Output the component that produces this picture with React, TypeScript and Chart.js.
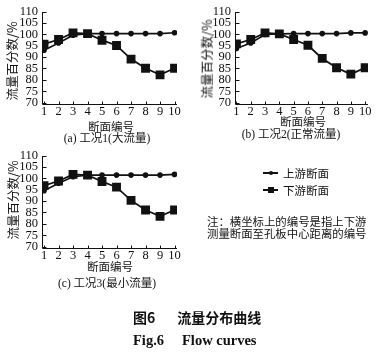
import React, { useEffect, useRef } from "react";
import { Chart, registerables } from "chart.js";
Chart.register(...registerables);

const sections = [1, 2, 3, 4, 5, 6, 7, 8, 9, 10];
const yTicks = [70, 75, 80, 85, 90, 95, 100, 105, 110];
const upstreamA = [93.0, 96.2, 99.6, 100.3, 100.3, 100.3, 100.3, 100.3, 100.3, 100.7];
const downstreamA = [95.7, 97.7, 100.6, 100.3, 97.4, 95.1, 89.1, 85.1, 82.2, 85.1];
const upstreamB = [93.8, 96.2, 99.9, 100.2, 100.3, 100.3, 100.3, 100.3, 100.6, 100.6];
const downstreamB = [95.8, 97.7, 100.6, 100.2, 97.7, 95.2, 89.4, 85.3, 82.5, 85.3];
const upstreamC = [94.5, 97.8, 100.7, 101.4, 101.4, 101.4, 101.4, 101.4, 101.4, 101.7];
const downstreamC = [96.8, 98.8, 101.7, 101.4, 98.6, 96.1, 90.3, 86.1, 83.3, 86.1];

const yTitle = "流量百分数/%";
const xTitle = "断面编号";
const captions = ["(a) 工况1(大流量)", "(b) 工况2(正常流量)", "(c) 工况3(最小流量)"];
const legendLabels = ["上游断面", "下游断面"];
const noteLines = ["注：横坐标上的编号是指上下游", "测量断面至孔板中心距离的编号"];

const CJK = "'Noto Sans CJK SC', sans-serif";
const SERIF = "'Liberation Serif', 'Noto Sans CJK SC', serif";

const axesPlugin = {
  id: "inwardAxes",
  beforeDatasetsDraw(chart: any) {
    const { ctx, chartArea, scales } = chart;
    const { left, right, bottom } = chartArea;
    const x = scales.x;
    const y = scales.y;
    ctx.save();
    ctx.strokeStyle = "#111";
    ctx.lineWidth = 1;
    ctx.beginPath();
    const l = Math.round(left) + 0.5;
    const b = Math.round(bottom) + 0.5;
    ctx.moveTo(l, Math.round(y.getPixelForValue(110)));
    ctx.lineTo(l, b);
    ctx.lineTo(Math.round(right), b);
    for (const v of yTicks) {
      const py = Math.round(y.getPixelForValue(v)) + 0.5;
      ctx.moveTo(l, py);
      ctx.lineTo(l + 4, py);
    }
    for (const v of sections) {
      const px = Math.round(x.getPixelForValue(v)) + 0.5;
      ctx.moveTo(px, b);
      ctx.lineTo(px, b - 3);
    }
    ctx.stroke();
    ctx.restore();
  },
};

type Geo = {
  left: number; top: number; width: number; height: number;
  padTop: number; padRight: number; yWidth: number; xHeight: number;
  xMin: number; xMax: number; yMin: number;
};

function Panel({ up, down, geo }: { up: number[]; down: number[]; geo: Geo }) {
  const ref = useRef<HTMLCanvasElement>(null);
  useEffect(() => {
    if (!ref.current) return;
    const tickFont = { family: "'Liberation Serif', serif", size: 12.5 };
    const chart = new Chart(ref.current, {
      type: "line",
      data: {
        datasets: [
          {
            label: legendLabels[0],
            data: sections.map((s, i) => ({ x: s, y: up[i] })),
            borderColor: "#111",
            backgroundColor: "#111",
            borderWidth: 1.6,
            pointStyle: "circle",
            pointRadius: 2,
            tension: 0,
          },
          {
            label: legendLabels[1],
            data: sections.map((s, i) => ({ x: s, y: down[i] })),
            borderColor: "#111",
            backgroundColor: "#111",
            borderWidth: 1.8,
            pointStyle: "rect",
            pointRadius: 5,
            tension: 0,
          },
        ],
      },
      options: {
        responsive: false,
        animation: false,
        devicePixelRatio: 1,
        layout: { padding: { top: geo.padTop, right: geo.padRight, left: 0, bottom: 0 } },
        plugins: { legend: { display: false }, tooltip: { enabled: false } },
        scales: {
          x: {
            type: "linear",
            min: geo.xMin,
            max: geo.xMax,
            grid: { display: false, drawTicks: false },
            border: { display: false },
            afterBuildTicks: (s: any) => { s.ticks = sections.map((v) => ({ value: v })); },
            afterFit: (s: any) => { s.height = geo.xHeight; },
            ticks: { font: tickFont, color: "#111", padding: 0, autoSkip: false, maxRotation: 0, callback: (v: any) => String(v) },
          },
          y: {
            type: "linear",
            min: geo.yMin,
            max: 110,
            grid: { display: false, drawTicks: false },
            border: { display: false },
            afterBuildTicks: (s: any) => { s.ticks = yTicks.map((v) => ({ value: v })); },
            afterFit: (s: any) => { s.width = geo.yWidth; },
            ticks: { font: tickFont, color: "#111", padding: 4, autoSkip: false, callback: (v: any) => String(v) },
          },
        },
      },
      plugins: [axesPlugin],
    } as any);
    return () => chart.destroy();
  }, []);
  return (
    <canvas
      ref={ref}
      width={geo.width}
      height={geo.height}
      style={{ position: "absolute", left: geo.left, top: geo.top, width: geo.width, height: geo.height }}
    />
  );
}

function Txt({ x, y, text, size, family, rotate, weight }: any) {
  return (
    <div
      style={{
        position: "absolute",
        left: x,
        top: y,
        transform: `translate(-50%, -50%)${rotate ? " rotate(-90deg)" : ""}`,
        whiteSpace: "nowrap",
        fontSize: size,
        fontFamily: family,
        fontWeight: weight || "normal",
        color: "#111",
        lineHeight: 1,
      }}
    >
      {text}
    </div>
  );
}

function LegendItem({ x, y, square, label }: any) {
  return (
    <div style={{ position: "absolute", left: x, top: y - 7, height: 14, display: "flex", alignItems: "center" }}>
      <div style={{ position: "relative", width: 15, height: 14 }}>
        <div style={{ position: "absolute", left: 0, top: 6, width: 15, height: 1.6, background: "#111" }} />
        <div
          style={{
            position: "absolute",
            left: square ? 4.5 : 5.5,
            top: square ? 3.5 : 4.8,
            width: square ? 6 : 4,
            height: square ? 6 : 4,
            borderRadius: square ? 0 : 2,
            background: "#111",
          }}
        />
      </div>
      <span style={{ marginLeft: 5, fontSize: 11.5, fontFamily: CJK, color: "#111" }}>{label}</span>
    </div>
  );
}

const geoA: Geo = { left: 0, top: 0, width: 186, height: 120, padTop: 11, padRight: 9, yWidth: 42, xHeight: 16, xMin: 0.86, xMax: 10.17, yMin: 69.4 };
const geoB: Geo = { left: 195, top: 0, width: 180, height: 120, padTop: 10, padRight: 7, yWidth: 40, xHeight: 16, xMin: 0.9, xMax: 10.2, yMin: 69.4 };
const geoC: Geo = { left: 0, top: 144, width: 186, height: 120, padTop: 11, padRight: 9, yWidth: 42, xHeight: 16, xMin: 0.86, xMax: 10.17, yMin: 69.4 };

export default function App() {
  return (
    <div style={{ position: "fixed", left: 0, top: 0, width: 389, height: 352, background: "#fff", overflow: "hidden" }}>
      <Panel up={upstreamA} down={downstreamA} geo={geoA} />
      <Panel up={upstreamB} down={downstreamB} geo={geoB} />
      <Panel up={upstreamC} down={downstreamC} geo={geoC} />

      <Txt x={12} y={61} text={yTitle} size={12.5} family={CJK} rotate />
      <Txt x={207} y={59} text={yTitle} size={12.5} family={CJK} rotate />
      <Txt x={13} y={200} text={yTitle} size={12.5} family={CJK} rotate />

      <Txt x={111} y={127} text={xTitle} size={11.5} family={CJK} />
      <Txt x={303} y={122} text={xTitle} size={11.5} family={CJK} />
      <Txt x={110} y={267} text={xTitle} size={11.5} family={CJK} />

      <Txt x={107} y={139} text={captions[0]} size={11.5} family={SERIF} />
      <Txt x={291} y={135} text={captions[1]} size={11.5} family={SERIF} />
      <Txt x={107} y={284} text={captions[2]} size={11.5} family={SERIF} />

      <LegendItem x={263} y={173} square={false} label={legendLabels[0]} />
      <LegendItem x={263} y={190} square={true} label={legendLabels[1]} />

      <div style={{ position: "absolute", left: 207, top: 216, fontSize: 11.4, lineHeight: "11.6px", fontFamily: CJK, color: "#111", whiteSpace: "nowrap" }}>
        <div>{noteLines[0]}</div>
        <div>{noteLines[1]}</div>
      </div>

      <div style={{ position: "absolute", left: 133, top: 309, fontSize: 14, fontFamily: CJK, fontWeight: "bold", color: "#111", whiteSpace: "nowrap", lineHeight: "16px" }}>
        图6<span style={{ display: "inline-block", width: 22 }} />流量分布曲线
      </div>
      <div style={{ position: "absolute", left: 133, top: 332, fontSize: 14.5, fontFamily: "'Liberation Serif', serif", fontWeight: "bold", color: "#111", whiteSpace: "nowrap", lineHeight: "16px" }}>
        Fig.6<span style={{ display: "inline-block", width: 18 }} />Flow curves
      </div>
    </div>
  );
}
